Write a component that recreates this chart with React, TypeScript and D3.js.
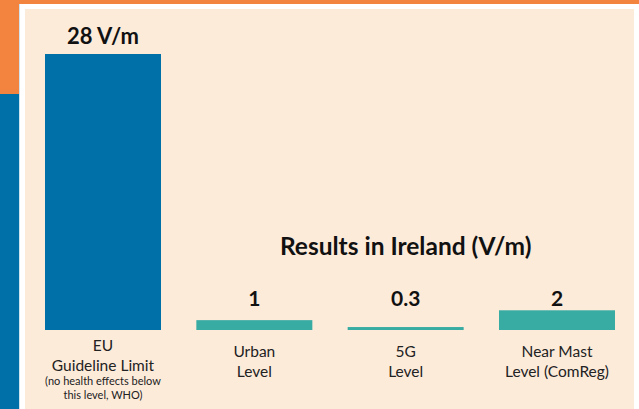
import React from "react";
import * as d3 from "d3";

const categories = ["EU", "Urban", "5G", "Near Mast"];
const values = [28, 1, 0.3, 2];
const valueLabels = ["28 V/m", "1", "0.3", "2"];
const categoryLines = [
  ["EU", "Guideline Limit"],
  ["Urban", "Level"],
  ["5G", "Level"],
  ["Near Mast", "Level (ComReg)"],
];
const noteLines = [["(no health effects below", "this level, WHO)"], [], [], []];
const groupTitle = "Results in Ireland (V/m)";

const W = 639;
const H = 409;
const ORANGE = "#F2843F";
const BLUE = "#0071A8";
const BEIGE = "#FDEBDA";
const TEAL = "#38ACA3";
const FONT = "Lato, 'Noto Sans', sans-serif";

export default function App() {
  const x = d3.scaleBand<string>().domain(categories).range([45, 615]).paddingInner(0.2335).paddingOuter(0);
  const y = d3.scaleLinear().domain([0, 28]).range([330, 54]);
  const irelandMax = d3.max(values.slice(1)) as number;
  const irelandRowY = y(irelandMax) - 4.5;
  const midCat = categories[2];

  return (
    <svg width={W} height={H} style={{ position: "fixed", left: 0, top: 0, display: "block" }}>
      <rect x={0} y={0} width={W} height={H} fill="#ffffff" />
      <rect x={0} y={0} width={W} height={4} fill={ORANGE} />
      <rect x={0} y={0} width={19} height={94} fill={ORANGE} />
      <rect x={0} y={94} width={19} height={H - 94} fill={BLUE} />
      <rect x={19} y={4} width={1} height={H - 4} fill="#cfe3ef" />
      <rect x={25} y={9} width={609} height={H - 9} fill={BEIGE} />

      {categories.map((c, i) => {
        const bx = x(c) as number;
        const bw = x.bandwidth();
        const cx = bx + bw / 2;
        const isEU = i === 0;
        const top = y(values[i]);
        const labelY = isEU ? top - 10 : irelandRowY;
        const firstLine = y(0) + (isEU ? 21 : 27);
        const lines = categoryLines[i];
        return (
          <g key={c}>
            <rect x={bx} y={top} width={bw} height={y(0) - top} fill={isEU ? BLUE : TEAL} />
            <text
              x={cx}
              y={labelY}
              textAnchor="middle"
              fontFamily={FONT}
              fontWeight={700}
              fontSize={isEU ? 22 : 21}
              fill="#111"
            >
              {valueLabels[i]}
            </text>
            {lines.map((l, j) => (
              <text
                key={j}
                x={cx}
                y={firstLine + j * 19.5}
                textAnchor="middle"
                fontFamily={FONT}
                fontSize={15.5}
                fill="#222"
              >
                {l}
              </text>
            ))}
            {noteLines[i].map((l, j) => (
              <text
                key={"n" + j}
                x={cx}
                y={firstLine + lines.length * 19.5 - 5 + j * 13.5}
                textAnchor="middle"
                fontFamily={FONT}
                fontSize={11}
                fill="#222"
              >
                {l}
              </text>
            ))}
          </g>
        );
      })}

      <text
        x={(x(midCat) as number) + x.bandwidth() / 2}
        y={255}
        textAnchor="middle"
        fontFamily={FONT}
        fontWeight={700}
        fontSize={24.5}
        fill="#111"
      >
        {groupTitle}
      </text>
    </svg>
  );
}
